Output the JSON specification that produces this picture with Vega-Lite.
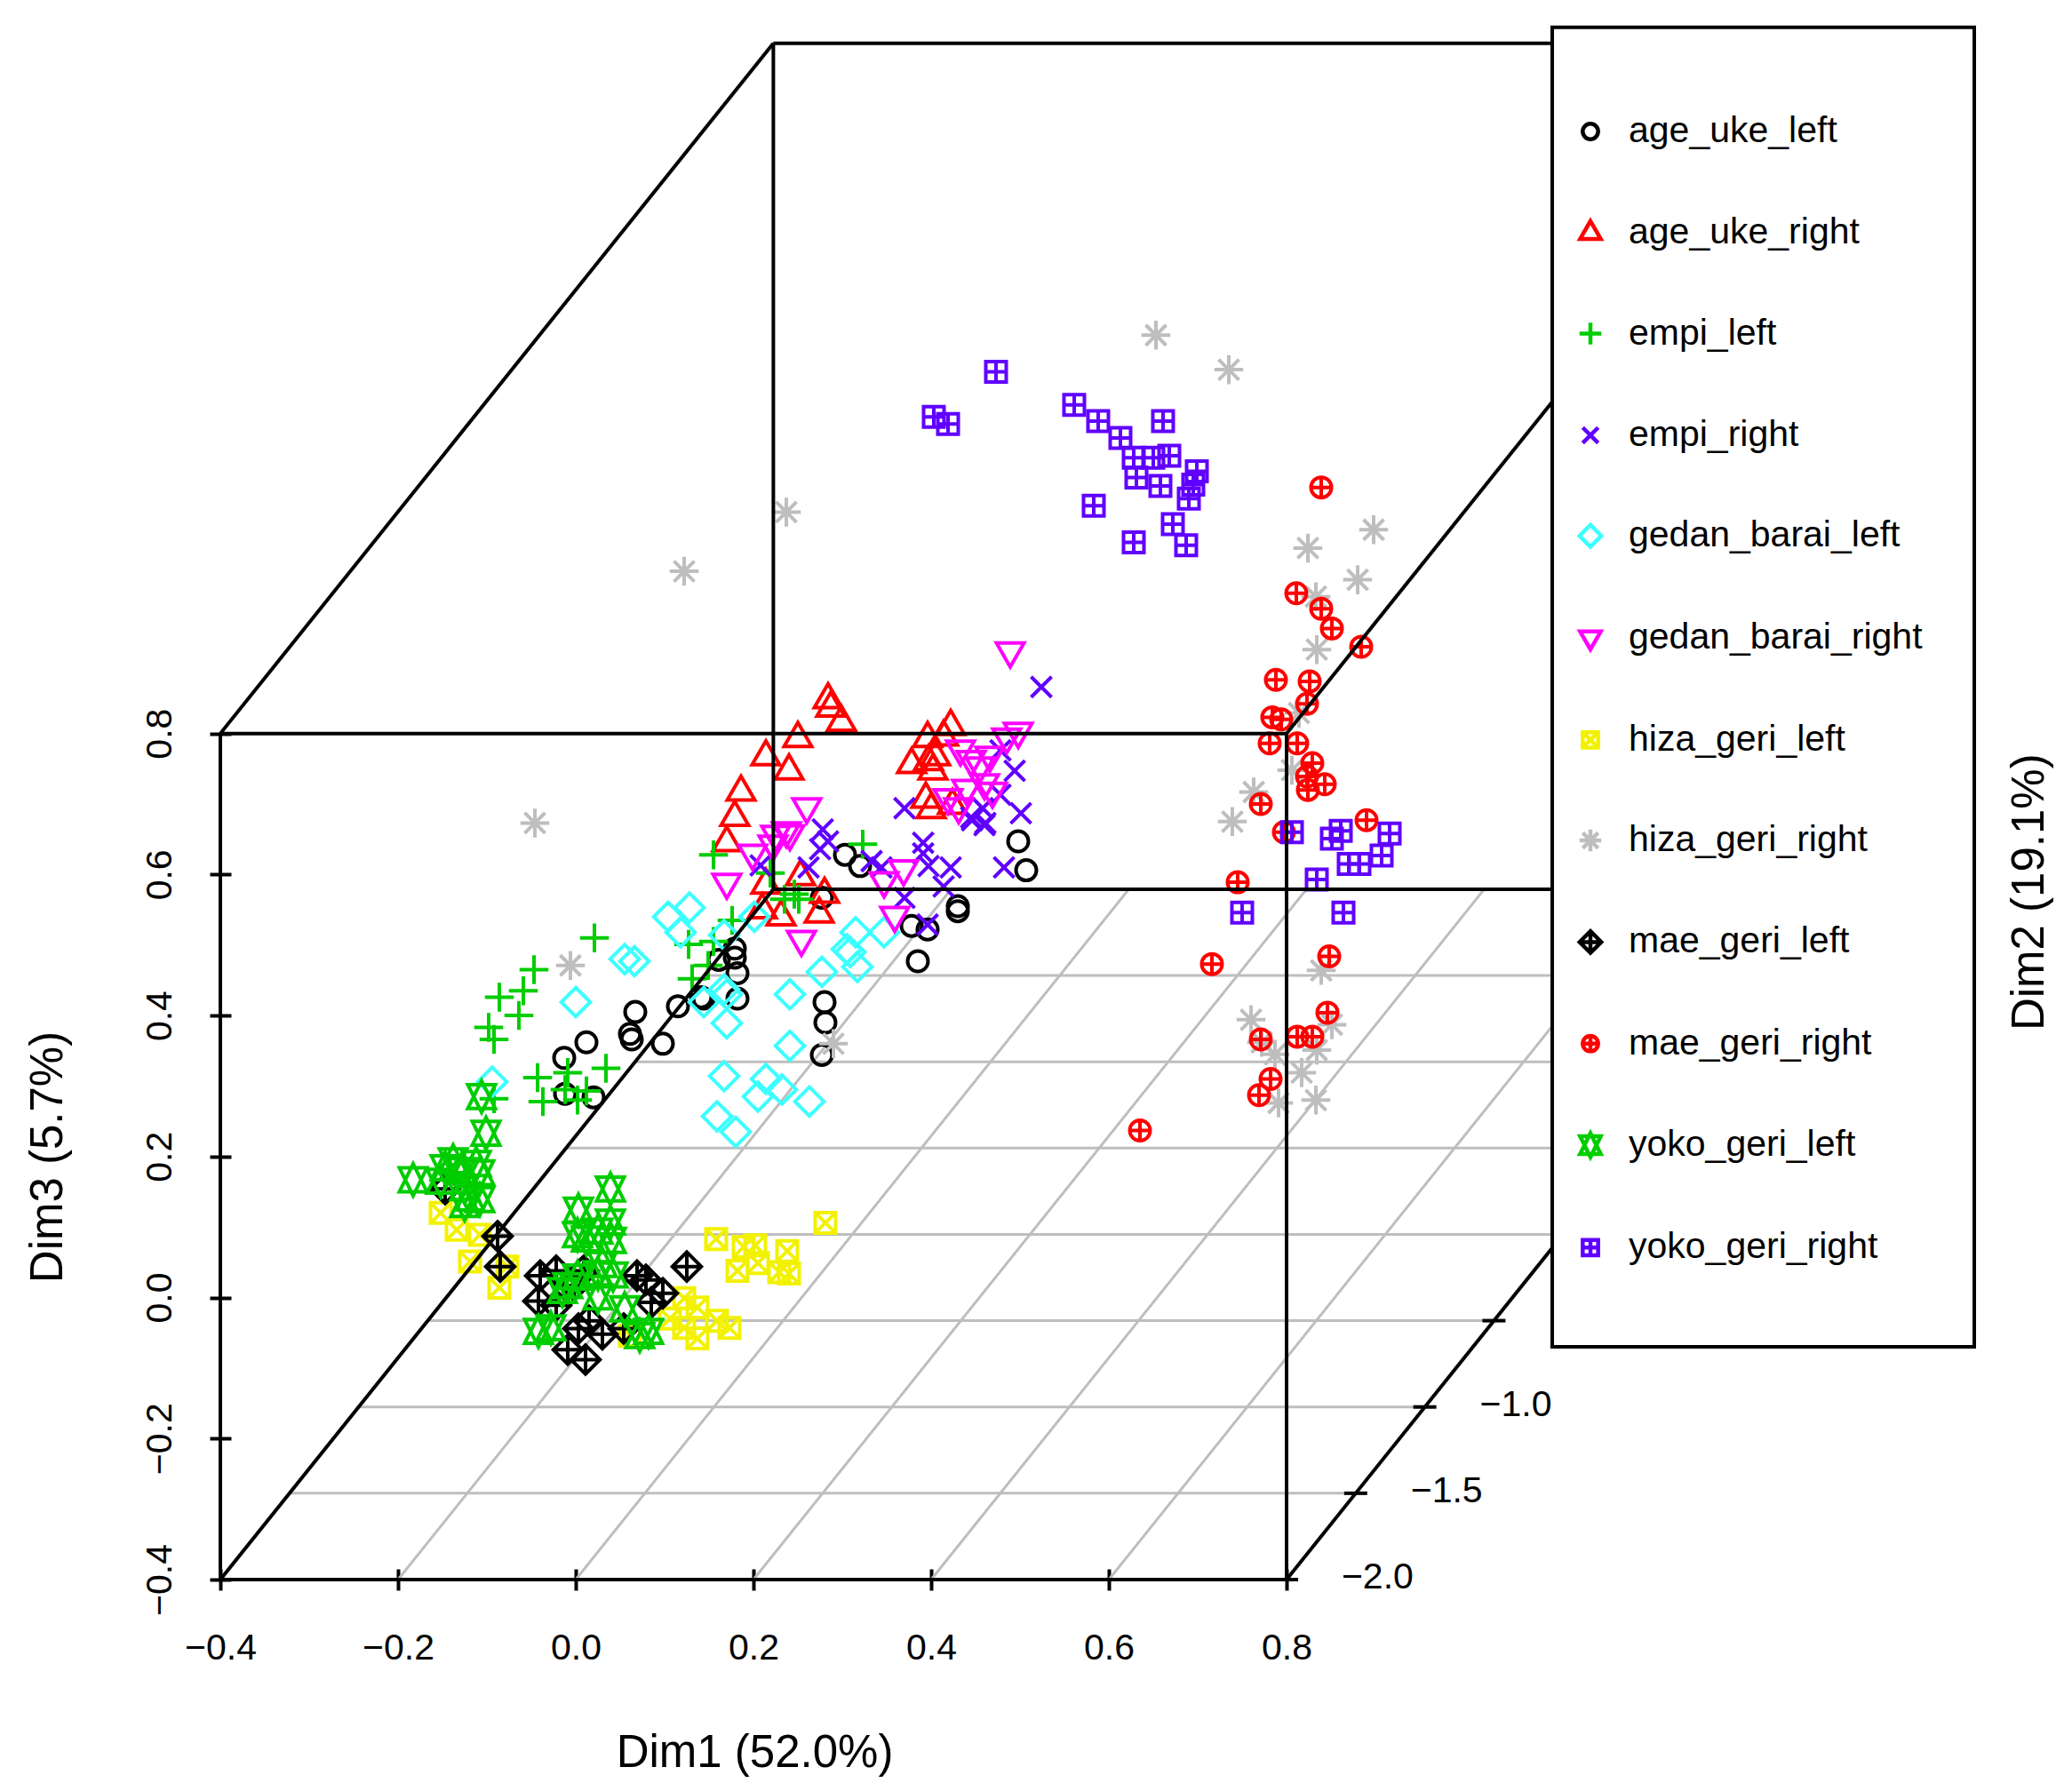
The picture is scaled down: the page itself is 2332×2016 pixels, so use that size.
{
  "$schema": "https://vega.github.io/schema/vega-lite/v6.json",
  "width": 2050,
  "height": 1746,
  "autosize": "none",
  "padding": {"left": 248, "top": 32, "right": 34, "bottom": 238},
  "background": "white",
  "config": {"view": {"stroke": null}, "font": "Liberation Sans"},
  "datasets": {
    "grid": [
      {"x": -0.3222, "y": -0.2776, "x2": 0.8778, "y2": -0.2776},
      {"x": -0.2444, "y": -0.1552, "x2": 0.9556, "y2": -0.1552},
      {"x": -0.1666, "y": -0.0328, "x2": 1.0334, "y2": -0.0328},
      {"x": -0.0888, "y": 0.0896, "x2": 1.1112, "y2": 0.0896},
      {"x": -0.011, "y": 0.212, "x2": 1.189, "y2": 0.212},
      {"x": 0.0668, "y": 0.3344, "x2": 1.2668, "y2": 0.3344},
      {"x": 0.1446, "y": 0.4568, "x2": 1.3446, "y2": 0.4568},
      {"x": -0.2, "y": -0.4, "x2": 0.4224, "y2": 0.579},
      {"x": 0.0, "y": -0.4, "x2": 0.6224, "y2": 0.579},
      {"x": 0.2, "y": -0.4, "x2": 0.8224, "y2": 0.579},
      {"x": 0.4, "y": -0.4, "x2": 1.0224, "y2": 0.579},
      {"x": 0.6, "y": -0.4, "x2": 1.2224, "y2": 0.579}
    ],
    "box": [
      {"x": -0.4, "y": -0.4, "x2": 0.8, "y2": -0.4},
      {"x": -0.4, "y": -0.4, "x2": -0.4, "y2": 0.8},
      {"x": -0.4, "y": 0.8, "x2": 0.8, "y2": 0.8},
      {"x": 0.8, "y": -0.4, "x2": 0.8, "y2": 0.8},
      {"x": 0.2224, "y": 0.579, "x2": 0.2224, "y2": 1.779},
      {"x": 0.2224, "y": 1.779, "x2": 1.4224, "y2": 1.779},
      {"x": 0.2224, "y": 0.579, "x2": 1.4224, "y2": 0.579},
      {"x": 1.4224, "y": 0.579, "x2": 1.4224, "y2": 1.779},
      {"x": -0.4, "y": 0.8, "x2": 0.2224, "y2": 1.779},
      {"x": 0.8, "y": 0.8, "x2": 1.4224, "y2": 1.779},
      {"x": -0.4, "y": -0.4, "x2": 0.2224, "y2": 0.579},
      {"x": 0.8, "y": -0.4, "x2": 1.4224, "y2": 0.579},
      {"x": 0.787, "y": -0.4, "x2": 0.813, "y2": -0.4},
      {"x": 0.8648, "y": -0.2776, "x2": 0.8908, "y2": -0.2776},
      {"x": 0.9426, "y": -0.1552, "x2": 0.9686, "y2": -0.1552},
      {"x": 1.0204, "y": -0.0328, "x2": 1.0464, "y2": -0.0328}
    ],
    "dim2labels": [
      {"x": 0.9024, "y": -0.4126, "label": "−2.0"},
      {"x": 0.9802, "y": -0.2902, "label": "−1.5"},
      {"x": 1.058, "y": -0.1678, "label": "−1.0"},
      {"x": 1.1358, "y": -0.0454, "label": "−0.5"}
    ],
    "frame": [
      {"x": 1.099, "y": 1.8016, "x2": 1.574, "y2": -0.0698}
    ],
    "dim2title": [
      {"x": 1.652, "y": 0.575, "label": "Dim2 (19.1%)"}
    ],
    "points": [
      {"move": "age_uke_left", "x": 0.067, "y": 0.405},
      {"move": "age_uke_left", "x": 0.012, "y": 0.362},
      {"move": "age_uke_left", "x": -0.013, "y": 0.340},
      {"move": "age_uke_left", "x": 0.061, "y": 0.374},
      {"move": "age_uke_left", "x": 0.063, "y": 0.366},
      {"move": "age_uke_left", "x": 0.098, "y": 0.360},
      {"move": "age_uke_left", "x": 0.115, "y": 0.413},
      {"move": "age_uke_left", "x": 0.141, "y": 0.426},
      {"move": "age_uke_left", "x": 0.161, "y": 0.479},
      {"move": "age_uke_left", "x": 0.179, "y": 0.495},
      {"move": "age_uke_left", "x": 0.179, "y": 0.482},
      {"move": "age_uke_left", "x": 0.182, "y": 0.460},
      {"move": "age_uke_left", "x": 0.182, "y": 0.424},
      {"move": "age_uke_left", "x": 0.144, "y": 0.424},
      {"move": "age_uke_left", "x": -0.012, "y": 0.289},
      {"move": "age_uke_left", "x": 0.020, "y": 0.284},
      {"move": "age_uke_left", "x": 0.280, "y": 0.419},
      {"move": "age_uke_left", "x": 0.281, "y": 0.390},
      {"move": "age_uke_left", "x": 0.277, "y": 0.344},
      {"move": "age_uke_left", "x": 0.277, "y": 0.567},
      {"move": "age_uke_left", "x": 0.303, "y": 0.628},
      {"move": "age_uke_left", "x": 0.320, "y": 0.612},
      {"move": "age_uke_left", "x": 0.498, "y": 0.647},
      {"move": "age_uke_left", "x": 0.507, "y": 0.606},
      {"move": "age_uke_left", "x": 0.378, "y": 0.527},
      {"move": "age_uke_left", "x": 0.396, "y": 0.522},
      {"move": "age_uke_left", "x": 0.430, "y": 0.555},
      {"move": "age_uke_left", "x": 0.430, "y": 0.548},
      {"move": "age_uke_left", "x": 0.385, "y": 0.477},
      {"move": "age_uke_right", "x": 0.284, "y": 0.848},
      {"move": "age_uke_right", "x": 0.287, "y": 0.836},
      {"move": "age_uke_right", "x": 0.299, "y": 0.816},
      {"move": "age_uke_right", "x": 0.250, "y": 0.793},
      {"move": "age_uke_right", "x": 0.214, "y": 0.767},
      {"move": "age_uke_right", "x": 0.240, "y": 0.747},
      {"move": "age_uke_right", "x": 0.186, "y": 0.717},
      {"move": "age_uke_right", "x": 0.179, "y": 0.681},
      {"move": "age_uke_right", "x": 0.170, "y": 0.645},
      {"move": "age_uke_right", "x": 0.422, "y": 0.810},
      {"move": "age_uke_right", "x": 0.396, "y": 0.793},
      {"move": "age_uke_right", "x": 0.414, "y": 0.795},
      {"move": "age_uke_right", "x": 0.378, "y": 0.756},
      {"move": "age_uke_right", "x": 0.397, "y": 0.760},
      {"move": "age_uke_right", "x": 0.405, "y": 0.767},
      {"move": "age_uke_right", "x": 0.402, "y": 0.747},
      {"move": "age_uke_right", "x": 0.394, "y": 0.707},
      {"move": "age_uke_right", "x": 0.400, "y": 0.692},
      {"move": "age_uke_right", "x": 0.424, "y": 0.698},
      {"move": "age_uke_right", "x": 0.214, "y": 0.585},
      {"move": "age_uke_right", "x": 0.210, "y": 0.550},
      {"move": "age_uke_right", "x": 0.231, "y": 0.540},
      {"move": "age_uke_right", "x": 0.253, "y": 0.597},
      {"move": "age_uke_right", "x": 0.280, "y": 0.572},
      {"move": "age_uke_right", "x": 0.274, "y": 0.544},
      {"move": "empi_left", "x": 0.021, "y": 0.510},
      {"move": "empi_left", "x": -0.047, "y": 0.465},
      {"move": "empi_left", "x": -0.059, "y": 0.435},
      {"move": "empi_left", "x": -0.086, "y": 0.426},
      {"move": "empi_left", "x": -0.064, "y": 0.400},
      {"move": "empi_left", "x": -0.098, "y": 0.383},
      {"move": "empi_left", "x": -0.092, "y": 0.366},
      {"move": "empi_left", "x": 0.155, "y": 0.628},
      {"move": "empi_left", "x": 0.219, "y": 0.602},
      {"move": "empi_left", "x": 0.246, "y": 0.572},
      {"move": "empi_left", "x": 0.235, "y": 0.565},
      {"move": "empi_left", "x": 0.251, "y": 0.565},
      {"move": "empi_left", "x": 0.176, "y": 0.535},
      {"move": "empi_left", "x": 0.127, "y": 0.501},
      {"move": "empi_left", "x": 0.155, "y": 0.505},
      {"move": "empi_left", "x": 0.149, "y": 0.471},
      {"move": "empi_left", "x": 0.131, "y": 0.452},
      {"move": "empi_left", "x": 0.034, "y": 0.325},
      {"move": "empi_left", "x": -0.043, "y": 0.312},
      {"move": "empi_left", "x": -0.009, "y": 0.319},
      {"move": "empi_left", "x": 0.012, "y": 0.293},
      {"move": "empi_left", "x": -0.037, "y": 0.278},
      {"move": "empi_left", "x": 0.002, "y": 0.280},
      {"move": "empi_left", "x": -0.092, "y": 0.282},
      {"move": "empi_left", "x": -0.012, "y": 0.295},
      {"move": "empi_left", "x": 0.323, "y": 0.643},
      {"move": "empi_right", "x": 0.524, "y": 0.866},
      {"move": "empi_right", "x": 0.478, "y": 0.776},
      {"move": "empi_right", "x": 0.494, "y": 0.747},
      {"move": "empi_right", "x": 0.370, "y": 0.694},
      {"move": "empi_right", "x": 0.478, "y": 0.713},
      {"move": "empi_right", "x": 0.501, "y": 0.687},
      {"move": "empi_right", "x": 0.458, "y": 0.694},
      {"move": "empi_right", "x": 0.445, "y": 0.681},
      {"move": "empi_right", "x": 0.460, "y": 0.670},
      {"move": "empi_right", "x": 0.278, "y": 0.664},
      {"move": "empi_right", "x": 0.391, "y": 0.645},
      {"move": "empi_right", "x": 0.461, "y": 0.673},
      {"move": "empi_right", "x": 0.446, "y": 0.677},
      {"move": "empi_right", "x": 0.391, "y": 0.630},
      {"move": "empi_right", "x": 0.397, "y": 0.612},
      {"move": "empi_right", "x": 0.422, "y": 0.610},
      {"move": "empi_right", "x": 0.482, "y": 0.610},
      {"move": "empi_right", "x": 0.414, "y": 0.583},
      {"move": "empi_right", "x": 0.370, "y": 0.567},
      {"move": "empi_right", "x": 0.396, "y": 0.529},
      {"move": "empi_right", "x": 0.284, "y": 0.647},
      {"move": "empi_right", "x": 0.275, "y": 0.636},
      {"move": "empi_right", "x": 0.262, "y": 0.610},
      {"move": "empi_right", "x": 0.208, "y": 0.613},
      {"move": "empi_right", "x": 0.333, "y": 0.619},
      {"move": "empi_right", "x": 0.344, "y": 0.610},
      {"move": "gedan_barai_left", "x": 0.104, "y": 0.540},
      {"move": "gedan_barai_left", "x": 0.128, "y": 0.553},
      {"move": "gedan_barai_left", "x": 0.118, "y": 0.518},
      {"move": "gedan_barai_left", "x": 0.201, "y": 0.540},
      {"move": "gedan_barai_left", "x": 0.167, "y": 0.514},
      {"move": "gedan_barai_left", "x": 0.055, "y": 0.480},
      {"move": "gedan_barai_left", "x": 0.066, "y": 0.477},
      {"move": "gedan_barai_left", "x": 0.000, "y": 0.419},
      {"move": "gedan_barai_left", "x": 0.144, "y": 0.419},
      {"move": "gedan_barai_left", "x": 0.170, "y": 0.430},
      {"move": "gedan_barai_left", "x": 0.170, "y": 0.389},
      {"move": "gedan_barai_left", "x": 0.241, "y": 0.430},
      {"move": "gedan_barai_left", "x": 0.277, "y": 0.462},
      {"move": "gedan_barai_left", "x": 0.241, "y": 0.357},
      {"move": "gedan_barai_left", "x": 0.167, "y": 0.314},
      {"move": "gedan_barai_left", "x": 0.214, "y": 0.310},
      {"move": "gedan_barai_left", "x": 0.232, "y": 0.295},
      {"move": "gedan_barai_left", "x": 0.205, "y": 0.285},
      {"move": "gedan_barai_left", "x": 0.263, "y": 0.278},
      {"move": "gedan_barai_left", "x": 0.159, "y": 0.257},
      {"move": "gedan_barai_left", "x": 0.180, "y": 0.235},
      {"move": "gedan_barai_left", "x": -0.094, "y": 0.306},
      {"move": "gedan_barai_left", "x": 0.315, "y": 0.518},
      {"move": "gedan_barai_left", "x": 0.347, "y": 0.518},
      {"move": "gedan_barai_left", "x": 0.309, "y": 0.490},
      {"move": "gedan_barai_left", "x": 0.317, "y": 0.469},
      {"move": "gedan_barai_left", "x": 0.305, "y": 0.494},
      {"move": "gedan_barai_left", "x": 0.167, "y": 0.437},
      {"move": "gedan_barai_right", "x": 0.489, "y": 0.917},
      {"move": "gedan_barai_right", "x": 0.498, "y": 0.803},
      {"move": "gedan_barai_right", "x": 0.485, "y": 0.795},
      {"move": "gedan_barai_right", "x": 0.433, "y": 0.778},
      {"move": "gedan_barai_right", "x": 0.466, "y": 0.769},
      {"move": "gedan_barai_right", "x": 0.445, "y": 0.763},
      {"move": "gedan_barai_right", "x": 0.455, "y": 0.754},
      {"move": "gedan_barai_right", "x": 0.440, "y": 0.722},
      {"move": "gedan_barai_right", "x": 0.460, "y": 0.730},
      {"move": "gedan_barai_right", "x": 0.469, "y": 0.718},
      {"move": "gedan_barai_right", "x": 0.419, "y": 0.709},
      {"move": "gedan_barai_right", "x": 0.431, "y": 0.696},
      {"move": "gedan_barai_right", "x": 0.260, "y": 0.696},
      {"move": "gedan_barai_right", "x": 0.241, "y": 0.658},
      {"move": "gedan_barai_right", "x": 0.225, "y": 0.657},
      {"move": "gedan_barai_right", "x": 0.222, "y": 0.643},
      {"move": "gedan_barai_right", "x": 0.199, "y": 0.630},
      {"move": "gedan_barai_right", "x": 0.170, "y": 0.589},
      {"move": "gedan_barai_right", "x": 0.254, "y": 0.508},
      {"move": "gedan_barai_right", "x": 0.369, "y": 0.608},
      {"move": "gedan_barai_right", "x": 0.347, "y": 0.591},
      {"move": "gedan_barai_right", "x": 0.359, "y": 0.542},
      {"move": "gedan_barai_right", "x": 0.237, "y": 0.662},
      {"move": "hiza_geri_left", "x": -0.152, "y": 0.120},
      {"move": "hiza_geri_left", "x": -0.134, "y": 0.096},
      {"move": "hiza_geri_left", "x": -0.119, "y": 0.051},
      {"move": "hiza_geri_left", "x": -0.086, "y": 0.014},
      {"move": "hiza_geri_left", "x": -0.108, "y": 0.089},
      {"move": "hiza_geri_left", "x": -0.077, "y": 0.044},
      {"move": "hiza_geri_left", "x": 0.158, "y": 0.083},
      {"move": "hiza_geri_left", "x": 0.189, "y": 0.072},
      {"move": "hiza_geri_left", "x": 0.202, "y": 0.074},
      {"move": "hiza_geri_left", "x": 0.182, "y": 0.038},
      {"move": "hiza_geri_left", "x": 0.205, "y": 0.049},
      {"move": "hiza_geri_left", "x": 0.238, "y": 0.066},
      {"move": "hiza_geri_left", "x": 0.229, "y": 0.036},
      {"move": "hiza_geri_left", "x": 0.240, "y": 0.034},
      {"move": "hiza_geri_left", "x": 0.281, "y": 0.106},
      {"move": "hiza_geri_left", "x": 0.122, "y": -0.001},
      {"move": "hiza_geri_left", "x": 0.137, "y": -0.014},
      {"move": "hiza_geri_left", "x": 0.137, "y": -0.058},
      {"move": "hiza_geri_left", "x": 0.122, "y": -0.043},
      {"move": "hiza_geri_left", "x": 0.173, "y": -0.043},
      {"move": "hiza_geri_left", "x": 0.061, "y": -0.054},
      {"move": "hiza_geri_left", "x": 0.106, "y": -0.030},
      {"move": "hiza_geri_left", "x": 0.159, "y": -0.033},
      {"move": "hiza_geri_right", "x": 0.653, "y": 1.365},
      {"move": "hiza_geri_right", "x": 0.735, "y": 1.316},
      {"move": "hiza_geri_right", "x": 0.237, "y": 1.114},
      {"move": "hiza_geri_right", "x": 0.122, "y": 1.030},
      {"move": "hiza_geri_right", "x": -0.046, "y": 0.673},
      {"move": "hiza_geri_right", "x": -0.006, "y": 0.471},
      {"move": "hiza_geri_right", "x": 0.290, "y": 0.360},
      {"move": "hiza_geri_right", "x": 0.824, "y": 1.063},
      {"move": "hiza_geri_right", "x": 0.898, "y": 1.089},
      {"move": "hiza_geri_right", "x": 0.880, "y": 1.018},
      {"move": "hiza_geri_right", "x": 0.833, "y": 0.994},
      {"move": "hiza_geri_right", "x": 0.834, "y": 0.919},
      {"move": "hiza_geri_right", "x": 0.814, "y": 0.829},
      {"move": "hiza_geri_right", "x": 0.806, "y": 0.748},
      {"move": "hiza_geri_right", "x": 0.763, "y": 0.717},
      {"move": "hiza_geri_right", "x": 0.739, "y": 0.675},
      {"move": "hiza_geri_right", "x": 0.839, "y": 0.464},
      {"move": "hiza_geri_right", "x": 0.760, "y": 0.394},
      {"move": "hiza_geri_right", "x": 0.851, "y": 0.387},
      {"move": "hiza_geri_right", "x": 0.772, "y": 0.362},
      {"move": "hiza_geri_right", "x": 0.787, "y": 0.345},
      {"move": "hiza_geri_right", "x": 0.834, "y": 0.351},
      {"move": "hiza_geri_right", "x": 0.817, "y": 0.319},
      {"move": "hiza_geri_right", "x": 0.791, "y": 0.276},
      {"move": "hiza_geri_right", "x": 0.833, "y": 0.280},
      {"move": "mae_geri_left", "x": -0.147, "y": 0.154},
      {"move": "mae_geri_left", "x": -0.088, "y": 0.087},
      {"move": "mae_geri_left", "x": -0.085, "y": 0.044},
      {"move": "mae_geri_left", "x": 0.125, "y": 0.044},
      {"move": "mae_geri_left", "x": -0.040, "y": 0.031},
      {"move": "mae_geri_left", "x": -0.022, "y": 0.038},
      {"move": "mae_geri_left", "x": 0.009, "y": 0.038},
      {"move": "mae_geri_left", "x": -0.042, "y": -0.005},
      {"move": "mae_geri_left", "x": -0.022, "y": -0.011},
      {"move": "mae_geri_left", "x": -0.002, "y": 0.017},
      {"move": "mae_geri_left", "x": 0.079, "y": 0.025},
      {"move": "mae_geri_left", "x": 0.069, "y": 0.031},
      {"move": "mae_geri_left", "x": 0.098, "y": 0.006},
      {"move": "mae_geri_left", "x": 0.085, "y": -0.007},
      {"move": "mae_geri_left", "x": 0.003, "y": -0.044},
      {"move": "mae_geri_left", "x": 0.030, "y": -0.052},
      {"move": "mae_geri_left", "x": 0.054, "y": -0.044},
      {"move": "mae_geri_left", "x": -0.009, "y": -0.074},
      {"move": "mae_geri_left", "x": 0.011, "y": -0.088},
      {"move": "mae_geri_left", "x": 0.015, "y": -0.033},
      {"move": "mae_geri_right", "x": 0.839, "y": 1.149},
      {"move": "mae_geri_right", "x": 0.811, "y": 0.999},
      {"move": "mae_geri_right", "x": 0.839, "y": 0.977},
      {"move": "mae_geri_right", "x": 0.851, "y": 0.949},
      {"move": "mae_geri_right", "x": 0.884, "y": 0.923},
      {"move": "mae_geri_right", "x": 0.788, "y": 0.876},
      {"move": "mae_geri_right", "x": 0.826, "y": 0.874},
      {"move": "mae_geri_right", "x": 0.823, "y": 0.842},
      {"move": "mae_geri_right", "x": 0.784, "y": 0.823},
      {"move": "mae_geri_right", "x": 0.794, "y": 0.820},
      {"move": "mae_geri_right", "x": 0.812, "y": 0.786},
      {"move": "mae_geri_right", "x": 0.781, "y": 0.786},
      {"move": "mae_geri_right", "x": 0.829, "y": 0.758},
      {"move": "mae_geri_right", "x": 0.823, "y": 0.739},
      {"move": "mae_geri_right", "x": 0.843, "y": 0.728},
      {"move": "mae_geri_right", "x": 0.824, "y": 0.720},
      {"move": "mae_geri_right", "x": 0.771, "y": 0.700},
      {"move": "mae_geri_right", "x": 0.890, "y": 0.677},
      {"move": "mae_geri_right", "x": 0.797, "y": 0.660},
      {"move": "mae_geri_right", "x": 0.745, "y": 0.589},
      {"move": "mae_geri_right", "x": 0.716, "y": 0.473},
      {"move": "mae_geri_right", "x": 0.848, "y": 0.484},
      {"move": "mae_geri_right", "x": 0.846, "y": 0.404},
      {"move": "mae_geri_right", "x": 0.812, "y": 0.370},
      {"move": "mae_geri_right", "x": 0.829, "y": 0.370},
      {"move": "mae_geri_right", "x": 0.771, "y": 0.366},
      {"move": "mae_geri_right", "x": 0.782, "y": 0.310},
      {"move": "mae_geri_right", "x": 0.769, "y": 0.287},
      {"move": "mae_geri_right", "x": 0.635, "y": 0.237},
      {"move": "yoko_geri_left", "x": -0.183, "y": 0.167},
      {"move": "yoko_geri_left", "x": -0.147, "y": 0.184},
      {"move": "yoko_geri_left", "x": -0.138, "y": 0.194},
      {"move": "yoko_geri_left", "x": -0.129, "y": 0.180},
      {"move": "yoko_geri_left", "x": -0.112, "y": 0.190},
      {"move": "yoko_geri_left", "x": -0.108, "y": 0.177},
      {"move": "yoko_geri_left", "x": -0.125, "y": 0.156},
      {"move": "yoko_geri_left", "x": -0.119, "y": 0.141},
      {"move": "yoko_geri_left", "x": -0.108, "y": 0.139},
      {"move": "yoko_geri_left", "x": -0.125, "y": 0.132},
      {"move": "yoko_geri_left", "x": -0.152, "y": 0.165},
      {"move": "yoko_geri_left", "x": -0.106, "y": 0.285},
      {"move": "yoko_geri_left", "x": -0.101, "y": 0.233},
      {"move": "yoko_geri_left", "x": 0.039, "y": 0.154},
      {"move": "yoko_geri_left", "x": 0.003, "y": 0.124},
      {"move": "yoko_geri_left", "x": 0.039, "y": 0.107},
      {"move": "yoko_geri_left", "x": 0.002, "y": 0.089},
      {"move": "yoko_geri_left", "x": 0.025, "y": 0.094},
      {"move": "yoko_geri_left", "x": 0.012, "y": 0.083},
      {"move": "yoko_geri_left", "x": 0.040, "y": 0.081},
      {"move": "yoko_geri_left", "x": 0.042, "y": 0.032},
      {"move": "yoko_geri_left", "x": 0.025, "y": 0.034},
      {"move": "yoko_geri_left", "x": 0.002, "y": 0.029},
      {"move": "yoko_geri_left", "x": -0.015, "y": 0.010},
      {"move": "yoko_geri_left", "x": 0.025, "y": 0.001},
      {"move": "yoko_geri_left", "x": 0.055, "y": -0.016},
      {"move": "yoko_geri_left", "x": -0.042, "y": -0.048},
      {"move": "yoko_geri_left", "x": -0.028, "y": -0.043},
      {"move": "yoko_geri_left", "x": 0.082, "y": -0.048},
      {"move": "yoko_geri_left", "x": 0.072, "y": -0.054},
      {"move": "yoko_geri_left", "x": -0.009, "y": 0.017},
      {"move": "yoko_geri_left", "x": 0.030, "y": 0.047},
      {"move": "yoko_geri_right", "x": 0.473, "y": 1.313},
      {"move": "yoko_geri_right", "x": 0.403, "y": 1.249},
      {"move": "yoko_geri_right", "x": 0.419, "y": 1.239},
      {"move": "yoko_geri_right", "x": 0.561, "y": 1.266},
      {"move": "yoko_geri_right", "x": 0.588, "y": 1.243},
      {"move": "yoko_geri_right", "x": 0.613, "y": 1.219},
      {"move": "yoko_geri_right", "x": 0.661, "y": 1.243},
      {"move": "yoko_geri_right", "x": 0.628, "y": 1.191},
      {"move": "yoko_geri_right", "x": 0.650, "y": 1.191},
      {"move": "yoko_geri_right", "x": 0.668, "y": 1.194},
      {"move": "yoko_geri_right", "x": 0.699, "y": 1.172},
      {"move": "yoko_geri_right", "x": 0.695, "y": 1.153},
      {"move": "yoko_geri_right", "x": 0.631, "y": 1.163},
      {"move": "yoko_geri_right", "x": 0.658, "y": 1.151},
      {"move": "yoko_geri_right", "x": 0.690, "y": 1.133},
      {"move": "yoko_geri_right", "x": 0.583, "y": 1.123},
      {"move": "yoko_geri_right", "x": 0.672, "y": 1.097},
      {"move": "yoko_geri_right", "x": 0.628, "y": 1.071},
      {"move": "yoko_geri_right", "x": 0.687, "y": 1.067},
      {"move": "yoko_geri_right", "x": 0.806, "y": 0.660},
      {"move": "yoko_geri_right", "x": 0.851, "y": 0.651},
      {"move": "yoko_geri_right", "x": 0.861, "y": 0.662},
      {"move": "yoko_geri_right", "x": 0.916, "y": 0.658},
      {"move": "yoko_geri_right", "x": 0.907, "y": 0.627},
      {"move": "yoko_geri_right", "x": 0.882, "y": 0.615},
      {"move": "yoko_geri_right", "x": 0.870, "y": 0.615},
      {"move": "yoko_geri_right", "x": 0.834, "y": 0.593},
      {"move": "yoko_geri_right", "x": 0.750, "y": 0.546},
      {"move": "yoko_geri_right", "x": 0.864, "y": 0.546}
    ]
  },
  "encoding": {
    "x": {
      "field": "x",
      "type": "quantitative",
      "scale": {"domain": [-0.4, 1.65], "nice": false, "zero": false},
      "axis": {
        "values": [-0.4, -0.2, 0, 0.2, 0.4, 0.6, 0.8],
        "format": ".1f",
        "domain": false,
        "grid": false,
        "offset": -12,
        "tickSize": 24,
        "tickWidth": 4,
        "tickColor": "black",
        "labelFont": "Liberation Sans",
        "labelFontSize": 41,
        "labelColor": "black",
        "labelBaseline": "alphabetic",
        "labelPadding": 77,
        "labelFlush": false,
        "labelOverlap": false,
        "title": "Dim1 (52.0%)",
        "titleFont": "Liberation Sans",
        "titleFontSize": 51,
        "titleFontWeight": "normal",
        "titleColor": "black",
        "titleX": 601,
        "titleY": 222,
        "titleAlign": "center",
        "titleBaseline": "alphabetic",
        "titleAngle": 0
      }
    },
    "y": {
      "field": "y",
      "type": "quantitative",
      "scale": {"domain": [-0.4, 1.8], "nice": false, "zero": false},
      "axis": {
        "values": [-0.4, -0.2, 0, 0.2, 0.4, 0.6, 0.8],
        "format": ".1f",
        "domain": false,
        "grid": false,
        "offset": -12,
        "tickSize": 24,
        "tickWidth": 4,
        "tickColor": "black",
        "labelFont": "Liberation Sans",
        "labelFontSize": 41,
        "labelColor": "black",
        "labelAngle": 270,
        "labelAlign": "center",
        "labelBaseline": "alphabetic",
        "labelPadding": 44,
        "labelFlush": false,
        "labelOverlap": false,
        "title": "Dim3 (5.7%)",
        "titleFont": "Liberation Sans",
        "titleFontSize": 51,
        "titleFontWeight": "normal",
        "titleColor": "black",
        "titleX": -191,
        "titleY": 1270,
        "titleAlign": "center",
        "titleBaseline": "alphabetic",
        "titleAngle": 270
      }
    }
  },
  "layer": [
    {
      "data": {"name": "grid"},
      "mark": {"type": "rule", "color": "#BEBEBE", "strokeWidth": 3},
      "encoding": {"x2": {"field": "x2"}, "y2": {"field": "y2"}}
    },
    {
      "data": {"name": "points"},
      "mark": {"type": "point", "filled": false, "size": 529, "strokeWidth": 4, "opacity": 1},
      "encoding": {
        "color": {
          "field": "move",
          "type": "nominal",
          "scale": {
            "domain": ["age_uke_left", "age_uke_right", "empi_left", "empi_right", "gedan_barai_left", "gedan_barai_right", "hiza_geri_left", "hiza_geri_right", "mae_geri_left", "mae_geri_right", "yoko_geri_left", "yoko_geri_right"],
            "range": ["#000000", "#FF0000", "#00CD00", "#6000FF", "#3CFFFF", "#FF00FF", "#F2F200", "#BEBEBE", "#000000", "#FF0000", "#00CD00", "#6000FF"]
          },
          "legend": {
            "title": null,
            "orient": "none",
            "legendX": 1521.5,
            "legendY": 95.5,
            "padding": 0,
            "rowPadding": 71.3,
            "labelOffset": 22.5,
            "labelFont": "Liberation Sans",
            "labelFontSize": 41,
            "labelColor": "black",
            "labelLimit": 1000,
            "symbolSize": 300,
            "symbolStrokeWidth": 4.5
          }
        },
        "shape": {
          "field": "move",
          "type": "nominal",
          "scale": {
            "domain": ["age_uke_left", "age_uke_right", "empi_left", "empi_right", "gedan_barai_left", "gedan_barai_right", "hiza_geri_left", "hiza_geri_right", "mae_geri_left", "mae_geri_right", "yoko_geri_left", "yoko_geri_right"],
            "range": [
              "circle",
              "M0,-1.555L1.347,0.778L-1.347,0.778Z",
              "M-1.414,0H1.414M0,-1.414V1.414",
              "M-1,-1L1,1M-1,1L1,-1",
              "M0,-1.414L1.414,0L0,1.414L-1.414,0Z",
              "M0,1.555L1.347,-0.778L-1.347,-0.778Z",
              "M-1,-1H1V1H-1ZM-1,-1L1,1M-1,1L1,-1",
              "M-1.414,0H1.414M0,-1.414V1.414M-1,-1L1,1M-1,1L1,-1",
              "M0,-1.414L1.414,0L0,1.414L-1.414,0ZM-1.414,0H1.414M0,-1.414V1.414",
              "M1,0A1,1,0,1,1,-1,0A1,1,0,1,1,1,0ZM-1,0H1M0,-1V1",
              "M0,-1.555L1.347,1.166L-1.347,1.166ZM0,1.555L1.347,-1.166L-1.347,-1.166Z",
              "M-1,-1H1V1H-1ZM-1,0H1M0,-1V1"
            ]
          },
          "legend": {
            "title": null,
            "orient": "none",
            "legendX": 1521.5,
            "legendY": 95.5,
            "padding": 0,
            "rowPadding": 71.3,
            "labelOffset": 22.5,
            "labelFont": "Liberation Sans",
            "labelFontSize": 41,
            "labelColor": "black",
            "labelLimit": 1000,
            "symbolSize": 300,
            "symbolStrokeWidth": 4.5
          }
        }
      }
    },
    {
      "data": {"name": "box"},
      "mark": {"type": "rule", "color": "black", "strokeWidth": 4},
      "encoding": {"x2": {"field": "x2"}, "y2": {"field": "y2"}}
    },
    {
      "data": {"name": "dim2labels"},
      "mark": {"type": "text", "font": "Liberation Sans", "fontSize": 41, "color": "black", "align": "center", "baseline": "alphabetic"},
      "encoding": {"text": {"field": "label"}}
    },
    {
      "data": {"name": "frame"},
      "mark": {"type": "rect", "fill": "white", "stroke": "black", "strokeWidth": 4},
      "encoding": {"x2": {"field": "x2"}, "y2": {"field": "y2"}}
    },
    {
      "data": {"name": "dim2title"},
      "mark": {"type": "text", "font": "Liberation Sans", "fontSize": 51, "color": "black", "align": "center", "baseline": "alphabetic", "angle": 270},
      "encoding": {"text": {"field": "label"}}
    }
  ]
}
